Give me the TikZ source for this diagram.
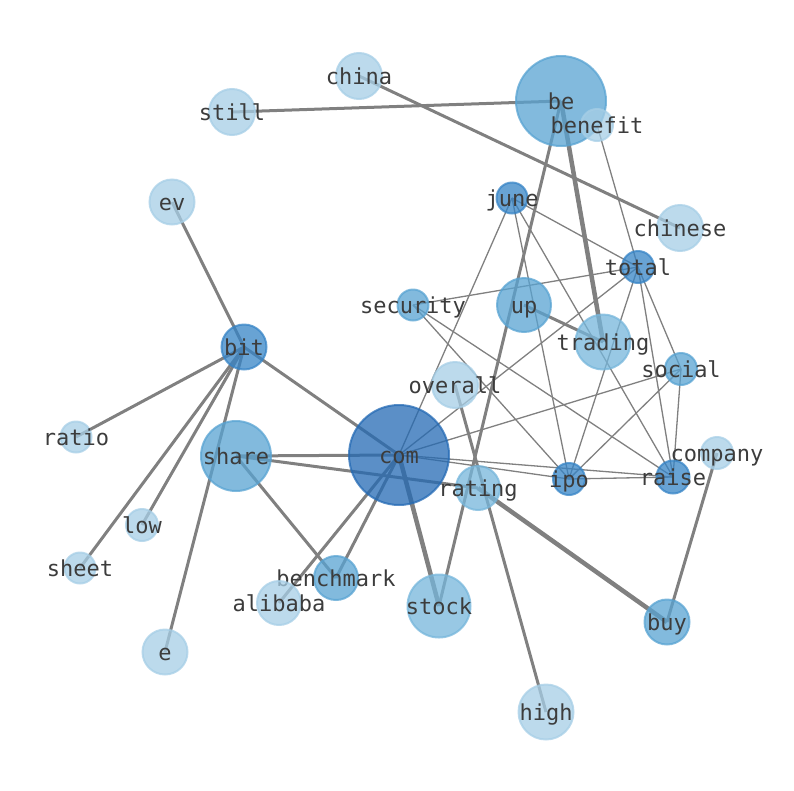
\documentclass[tikz,border=0pt]{standalone}
\usepackage{fontspec}
\setmonofont{DejaVu Sans Mono}
\pgfdeclarelayer{background}
\pgfsetlayers{background,main}

\definecolor{wcom}{RGB}{36,106,180}
\definecolor{wdark}{RGB}{54,132,198}
\definecolor{wmid}{RGB}{88,163,210}
\definecolor{wsoft}{RGB}{118,182,219}
\definecolor{wlight}{RGB}{166,206,230}
\definecolor{wlink}{RGB}{128,128,128}
\definecolor{wtext}{RGB}{60,60,60}

\begin{document}
\begin{tikzpicture}[%
    x=1pt,
    y=-1pt,
    word/.style={%
      circle,
      inner sep=0pt,
      line width=2pt,
      fill opacity=0.75,
      draw opacity=0.75,
      text opacity=1,
      label={[wtext,font=\ttfamily\fontsize{22}{26}\selectfont,text opacity=1,
              text height=16.5pt,text depth=5.5pt,inner sep=0pt,yshift=-3pt]center:#1}
    },
    thin/.style={wlink,line width=1.3pt},
    mid/.style={wlink,line width=3pt},
    heavy/.style={wlink,line width=4.5pt}
  ]
    \useasboundingbox (0,0) rectangle (794,790);

    \node[word=be,       fill=wmid,   draw=wmid,   minimum size=90pt] (be)        at (561,101) {};
    \node[word=china,    fill=wlight, draw=wlight, minimum size=46pt] (china)     at (359,76)  {};
    \node[word=still,    fill=wlight, draw=wlight, minimum size=46pt] (still)     at (232,112) {};
    \node[word=benefit,  fill=wlight, draw=wlight, minimum size=32pt] (benefit)   at (597,125) {};
    \node[word=ev,       fill=wlight, draw=wlight, minimum size=45pt] (ev)        at (172,202) {};
    \node[word=june,     fill=wdark,  draw=wdark,  minimum size=31pt] (june)      at (512,198) {};
    \node[word=chinese,  fill=wlight, draw=wlight, minimum size=46pt] (chinese)   at (680,228) {};
    \node[word=total,    fill=wdark,  draw=wdark,  minimum size=32pt] (total)     at (638,267) {};
    \node[word=security, fill=wmid,   draw=wmid,   minimum size=31pt] (security)  at (413,305) {};
    \node[word=up,       fill=wmid,   draw=wmid,   minimum size=54pt] (up)        at (524,305) {};
    \node[word=trading,  fill=wsoft,  draw=wsoft,  minimum size=55pt] (trading)   at (603,342) {};
    \node[word=bit,      fill=wdark,  draw=wdark,  minimum size=45pt] (bit)       at (244,347) {};
    \node[word=social,   fill=wmid,   draw=wmid,   minimum size=32pt] (social)    at (681,369) {};
    \node[word=overall,  fill=wlight, draw=wlight, minimum size=46pt] (overall)   at (455,385) {};
    \node[word=ratio,    fill=wlight, draw=wlight, minimum size=31pt] (ratio)     at (76,437)  {};
    \node[word=share,    fill=wmid,   draw=wmid,   minimum size=70pt] (share)     at (236,456) {};
    \node[word=com,      fill=wcom,   draw=wcom,   minimum size=100pt] (com)      at (399,455) {};
    \node[word=company,  fill=wlight, draw=wlight, minimum size=32pt] (company)   at (717,453) {};
    \node[word=rating,   fill=wsoft,  draw=wsoft,  minimum size=44pt] (rating)    at (478,488) {};
    \node[word=ipo,      fill=wdark,  draw=wdark,  minimum size=32pt] (ipo)       at (569,479) {};
    \node[word=raise,    fill=wdark,  draw=wdark,  minimum size=33pt] (raise)     at (673,477) {};
    \node[word=low,      fill=wlight, draw=wlight, minimum size=32pt] (low)       at (142,525) {};
    \node[word=sheet,    fill=wlight, draw=wlight, minimum size=31pt] (sheet)     at (80,568)  {};
    \node[word=benchmark,fill=wmid,   draw=wmid,   minimum size=44pt] (benchmark) at (336,578) {};
    \node[word=alibaba,  fill=wlight, draw=wlight, minimum size=44pt] (alibaba)   at (279,603) {};
    \node[word=stock,    fill=wsoft,  draw=wsoft,  minimum size=63pt] (stock)     at (439,606) {};
    \node[word=buy,      fill=wmid,   draw=wmid,   minimum size=45pt] (buy)       at (667,622) {};
    \node[word=e,        fill=wlight, draw=wlight, minimum size=45pt] (e)         at (165,652) {};
    \node[word=high,     fill=wlight, draw=wlight, minimum size=55pt] (high)      at (546,712) {};

    \begin{pgfonlayer}{background}
    \path (still.center)    edge[mid]   (be.center)
          (china.center)    edge[mid]   (chinese.center)
          (be.center)       edge[mid]   (stock.center)
          (be.center)       edge[heavy] (trading.center)
          (bit.center)      edge[mid]   (ev.center)
          (bit.center)      edge[mid]   (ratio.center)
          (bit.center)      edge[mid]   (sheet.center)
          (bit.center)      edge[mid]   (low.center)
          (bit.center)      edge[mid]   (e.center)
          (bit.center)      edge[mid]   (com.center)
          (share.center)    edge[mid]   (com.center)
          (share.center)    edge[mid]   (rating.center)
          (share.center)    edge[mid]   (benchmark.center)
          (com.center)      edge[mid]   (benchmark.center)
          (com.center)      edge[mid]   (alibaba.center)
          (com.center)      edge[heavy] (stock.center)
          (rating.center)   edge[heavy] (buy.center)
          (overall.center)  edge[mid]   (high.center)
          (company.center)  edge[mid]   (buy.center)
          (up.center)       edge[mid]   (trading.center)
          (com.center)      edge[thin]  (june.center)
          (com.center)      edge[thin]  (total.center)
          (com.center)      edge[thin]  (social.center)
          (com.center)      edge[thin]  (ipo.center)
          (com.center)      edge[thin]  (raise.center)
          (june.center)     edge[thin]  (total.center)
          (june.center)     edge[thin]  (ipo.center)
          (june.center)     edge[thin]  (raise.center)
          (security.center) edge[thin]  (total.center)
          (security.center) edge[thin]  (ipo.center)
          (security.center) edge[thin]  (raise.center)
          (total.center)    edge[thin]  (ipo.center)
          (total.center)    edge[thin]  (social.center)
          (total.center)    edge[thin]  (raise.center)
          (benefit.center)  edge[thin]  (total.center)
          (social.center)   edge[thin]  (ipo.center)
          (social.center)   edge[thin]  (raise.center)
          (ipo.center)      edge[thin]  (raise.center);
    \end{pgfonlayer}
  \end{tikzpicture}
\end{document}
